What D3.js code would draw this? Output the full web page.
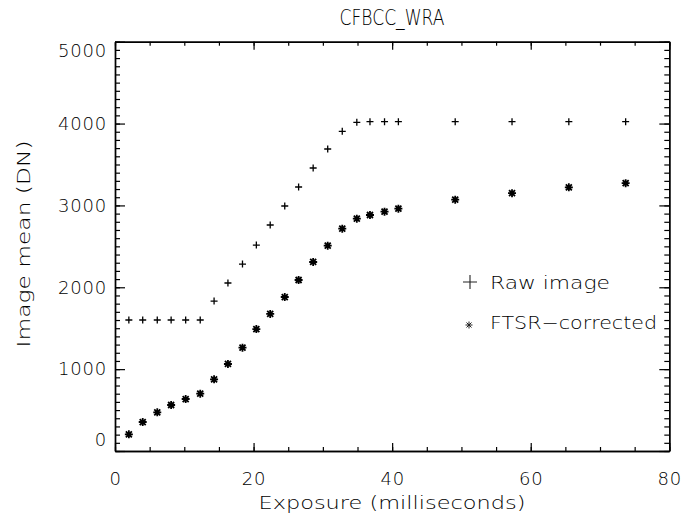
<!DOCTYPE html>
<html>
<head>
<meta charset="UTF-8">
<title>CFBCC_WRA</title>
<script src="https://cdn.jsdelivr.net/npm/d3@7/dist/d3.min.js"></script>
<style>
  body { margin: 0; background: #fff; }
  text { font-family: "DejaVu Sans", sans-serif; font-weight: 200; fill: #000; }
</style>
</head>
<body>
<svg width="687" height="524"></svg>
<script>
// exposure (ms) and image mean (DN)
var exposure = [2.0, 4.0, 6.1, 8.1, 10.2, 12.3, 14.3, 16.3, 18.4, 20.4, 22.4, 24.5,
                26.5, 28.6, 30.7, 32.8, 34.9, 36.8, 38.9, 40.9, 49.1, 57.3, 65.5, 73.7];
var rawImage = [1600, 1600, 1600, 1600, 1600, 1600, 1832, 2052, 2284, 2516, 2761, 2993,
                3225, 3457, 3689, 3905, 4015, 4023, 4023, 4023, 4023, 4023, 4023, 4023];
var ftsrCorrected = [204, 354, 473, 562, 635, 700, 876, 1063, 1262, 1490, 1674, 1881,
                     2089, 2309, 2508, 2716, 2838, 2883, 2923, 2960, 3070, 3150, 3221, 3272];
var xTicks = [0, 20, 40, 60, 80];
var yTicks = [0, 1000, 2000, 3000, 4000, 5000];

var svg = d3.select("svg");
var margin = {left: 115, top: 41.7, right: 687 - 669.3, bottom: 524 - 451};
var w = 687 - margin.left - margin.right;
var h = 524 - margin.top - margin.bottom;

var x = d3.scaleLinear().domain([0, 80]).range([0, w]);
var y = d3.scaleLinear().domain([0, 5000]).range([h, 0]);

var g = svg.append("g").attr("transform", "translate(" + margin.left + "," + margin.top + ")");

// minor ticks first
var xMinor = d3.range(0, 81, 5), yMinor = d3.range(0, 5001, 100);
g.append("g").attr("transform", "translate(0," + h + ")")
  .call(d3.axisBottom(x).tickValues(xMinor).tickSize(-4).tickSizeOuter(0).tickFormat(""));
g.append("g")
  .call(d3.axisTop(x).tickValues(xMinor).tickSize(-4).tickSizeOuter(0).tickFormat(""));
g.append("g")
  .call(d3.axisLeft(y).tickValues(yMinor).tickSize(-5).tickSizeOuter(0).tickFormat(""));
g.append("g").attr("transform", "translate(" + w + ",0)")
  .call(d3.axisRight(y).tickValues(yMinor).tickSize(-5).tickSizeOuter(0).tickFormat(""));

// major ticks
g.append("g").attr("transform", "translate(0," + h + ")")
  .call(d3.axisBottom(x).tickValues(xTicks).tickSize(-8).tickSizeOuter(0).tickPadding(21).tickFormat(d3.format("d")));
g.append("g")
  .call(d3.axisTop(x).tickValues(xTicks).tickSize(-8).tickSizeOuter(0).tickFormat(""));
var yAx = g.append("g")
  .call(d3.axisLeft(y).tickValues(yTicks).tickSize(-10).tickSizeOuter(0).tickPadding(8).tickFormat(d3.format("d")));
g.append("g").attr("transform", "translate(" + w + ",0)")
  .call(d3.axisRight(y).tickValues(yTicks).tickSize(-10).tickSizeOuter(0).tickFormat(""));

g.selectAll(".domain").attr("stroke", "#000").attr("stroke-width", 1.4);
g.selectAll(".tick line").attr("stroke", "#000").attr("stroke-width", 1.2);
g.selectAll(".tick text").attr("font-size", 18).attr("font-family", null).attr("fill", "#000")
  .attr("letter-spacing", 0.8);

// the end labels on the y axis sit inside the axis range
yAx.selectAll(".tick text").attr("dy", function(d) {
  if (d === 0) return "-0.3em";
  if (d === 5000) return "0.8em";
  return "0.32em";
});

// symbols
var plusPath = "M-3.5,0H3.5M0,-3.5V3.5";
var starPath = "M-4,0H4M0,-4V4M-3,-3L3,3M-3,3L3,-3";

g.append("g").selectAll("path")
  .data(exposure.map(function(e, i) { return [e, rawImage[i]]; }))
  .enter().append("path")
  .attr("transform", function(d) { return "translate(" + x(d[0]) + "," + y(d[1]) + ")"; })
  .attr("d", plusPath)
  .attr("stroke", "#000").attr("stroke-width", 1.3).attr("fill", "none");

g.append("g").selectAll("path")
  .data(exposure.map(function(e, i) { return [e, ftsrCorrected[i]]; }))
  .enter().append("path")
  .attr("transform", function(d) { return "translate(" + x(d[0]) + "," + y(d[1]) + ")"; })
  .attr("d", starPath)
  .attr("stroke", "#000").attr("stroke-width", 1.8).attr("fill", "none");

// titles
svg.append("text").attr("x", 392).attr("y", 25).attr("text-anchor", "middle")
  .attr("font-size", 21).attr("textLength", 105).attr("lengthAdjust", "spacingAndGlyphs")
  .text("CFBCC_WRA");
svg.append("text").attr("x", 392).attr("y", 509).attr("text-anchor", "middle")
  .attr("font-size", 18).attr("textLength", 267).attr("lengthAdjust", "spacingAndGlyphs")
  .text("Exposure (milliseconds)");
svg.append("text").attr("transform", "translate(30,244) rotate(-90)").attr("text-anchor", "middle")
  .attr("font-size", 18).attr("textLength", 207).attr("lengthAdjust", "spacingAndGlyphs")
  .text("Image mean (DN)");

// legend
svg.append("path").attr("transform", "translate(470,282)").attr("d", "M-7,0H7M0,-7V7")
  .attr("stroke", "#222").attr("stroke-width", 1.1).attr("fill", "none");
svg.append("text").attr("x", 490).attr("y", 289).attr("font-size", 18)
  .attr("textLength", 120).attr("lengthAdjust", "spacingAndGlyphs").text("Raw image");
svg.append("path").attr("transform", "translate(469,325)")
  .attr("d", "M-3.5,0H3.5M0,-3.5V3.5M-2.5,-2.5L2.5,2.5M-2.5,2.5L2.5,-2.5")
  .attr("stroke", "#222").attr("stroke-width", 1).attr("fill", "none");
svg.append("text").attr("x", 490).attr("y", 329).attr("font-size", 18)
  .attr("textLength", 167).attr("lengthAdjust", "spacingAndGlyphs").text("FTSR\u2212corrected");
</script>
</body>
</html>
